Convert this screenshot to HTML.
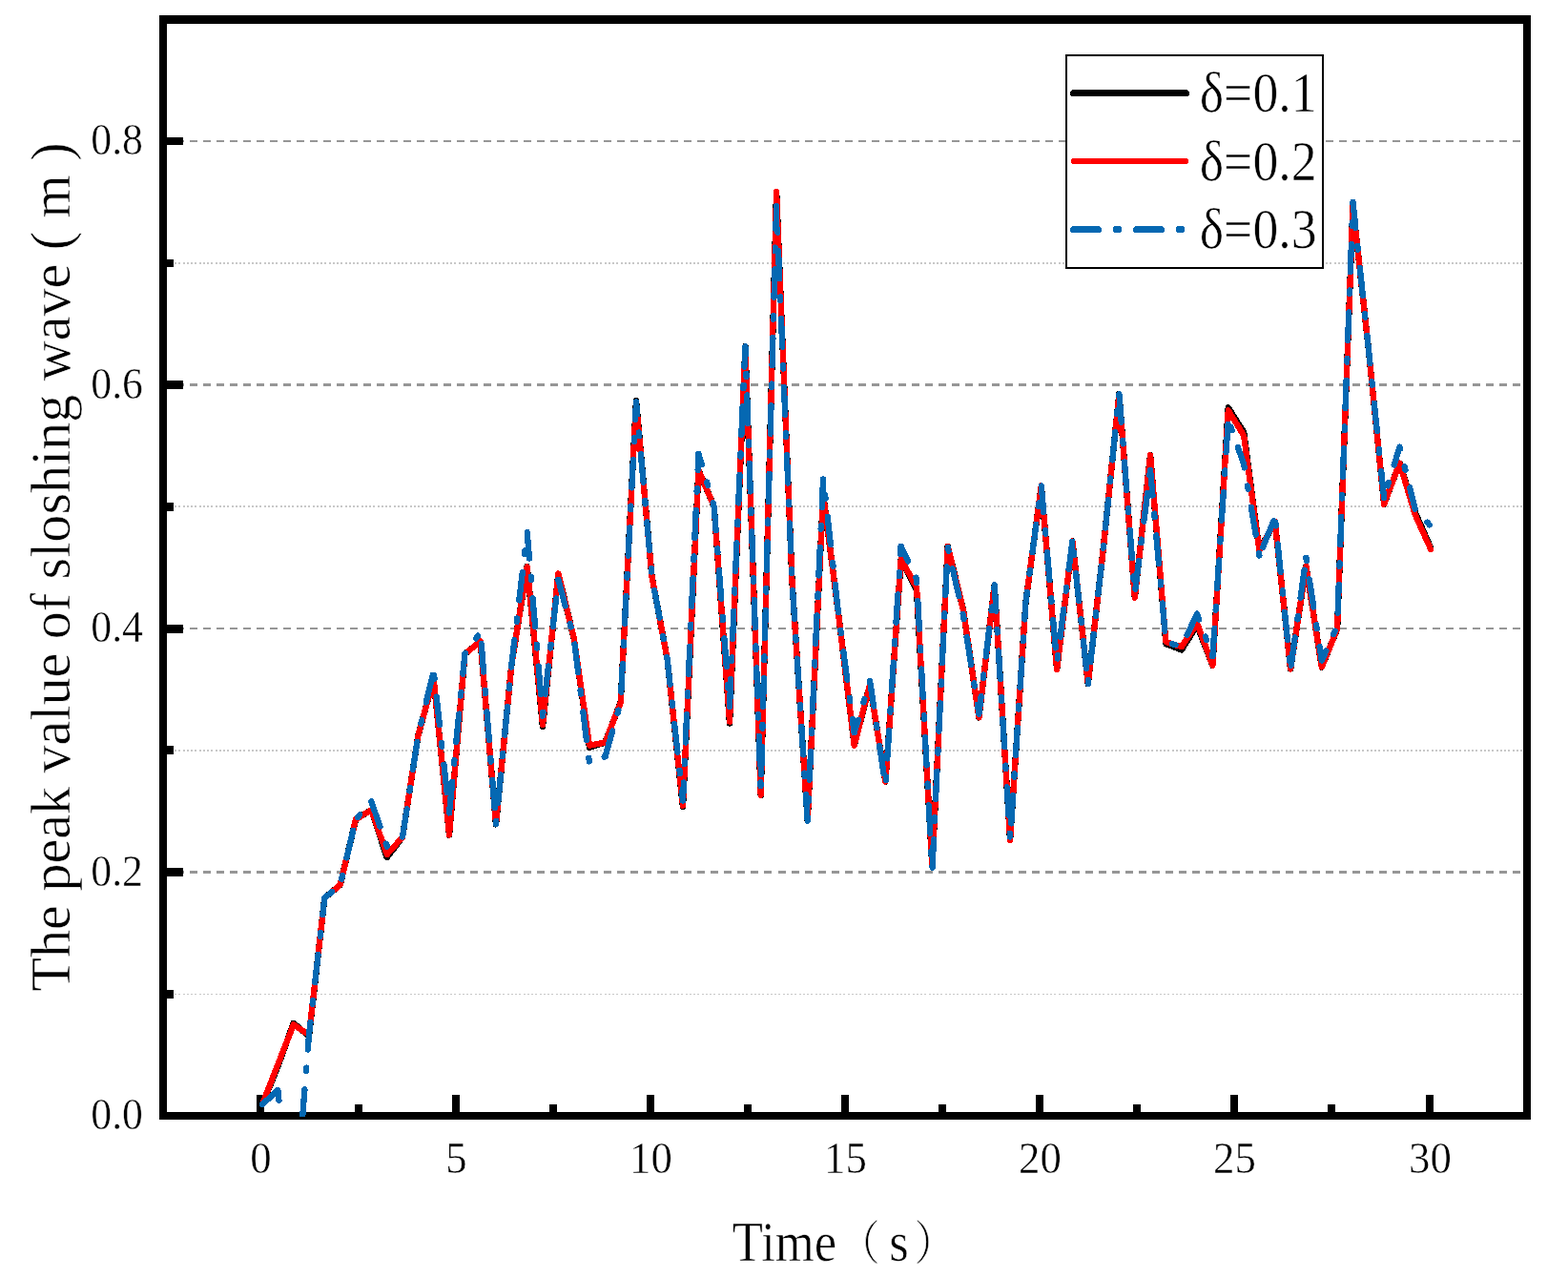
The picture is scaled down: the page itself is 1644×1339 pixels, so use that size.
<!DOCTYPE html>
<html lang="en"><head><meta charset="utf-8"><title>The peak value of sloshing wave</title>
<style>html,body{margin:0;padding:0;background:#fff}body{width:1644px;height:1339px;overflow:hidden}svg{display:block}text{font-family:"Liberation Serif","Noto Serif CJK SC",serif;fill:#000;stroke:#fff;stroke-width:0.6px}text.t{stroke-width:0.45px}</style></head><body>
<svg width="1644" height="1339" viewBox="0 0 1644 1339" role="img" aria-label="The peak value of sloshing wave versus time">
<rect width="1644" height="1339" fill="#fff"/>
<defs><clipPath id="plot"><rect x="171" y="20" width="1430" height="1151"/></clipPath></defs>
<g shape-rendering="crispEdges" fill="none">
<line x1="171" x2="1597" y1="148.0" y2="148.0" stroke="#969696" stroke-width="2" stroke-dasharray="8 6.011"/>
<line x1="171" x2="1597" y1="403.5" y2="403.5" stroke="#969696" stroke-width="3" stroke-dasharray="8 6.011"/>
<line x1="171" x2="1597" y1="659.0" y2="659.0" stroke="#969696" stroke-width="2" stroke-dasharray="8 6.011"/>
<line x1="171" x2="1597" y1="914.5" y2="914.5" stroke="#969696" stroke-width="3" stroke-dasharray="8 6.011"/>
<line x1="183" x2="1597" y1="276.0" y2="276.0" stroke="#c8c8c8" stroke-width="2" stroke-dasharray="2 2.25"/>
<line x1="183" x2="1597" y1="531.0" y2="531.0" stroke="#c8c8c8" stroke-width="2" stroke-dasharray="2 2.25"/>
<line x1="183" x2="1597" y1="787.0" y2="787.0" stroke="#c8c8c8" stroke-width="2" stroke-dasharray="2 2.25"/>
<line x1="183" x2="1597" y1="1042.5" y2="1042.5" stroke="#c8c8c8" stroke-width="1" stroke-dasharray="2 2.25"/>
</g>
<g shape-rendering="crispEdges" fill="#000">
<rect x="167" y="16" width="8" height="1158"/>
<rect x="1597" y="16" width="8" height="1158"/>
<rect x="167" y="16" width="1438" height="9"/>
<rect x="167" y="1166" width="1438" height="8"/>
<rect x="171" y="144" width="21" height="8"/>
<rect x="171" y="399" width="21" height="9"/>
<rect x="171" y="655" width="21" height="9"/>
<rect x="171" y="910" width="21" height="9"/>
<rect x="171" y="272" width="11" height="8"/>
<rect x="171" y="527" width="11" height="9"/>
<rect x="171" y="782" width="11" height="9"/>
<rect x="171" y="1038" width="11" height="9"/>
<rect x="269" y="1148" width="8" height="22"/>
<rect x="474" y="1148" width="8" height="22"/>
<rect x="678" y="1148" width="8" height="22"/>
<rect x="882" y="1148" width="8" height="22"/>
<rect x="1086" y="1148" width="8" height="22"/>
<rect x="1290" y="1148" width="8" height="22"/>
<rect x="1495" y="1148" width="8" height="22"/>
<rect x="372" y="1158" width="8" height="12"/>
<rect x="576" y="1158" width="8" height="12"/>
<rect x="780" y="1158" width="8" height="12"/>
<rect x="984" y="1158" width="8" height="12"/>
<rect x="1188" y="1158" width="8" height="12"/>
<rect x="1392" y="1158" width="8" height="12"/>
</g>
<g clip-path="url(#plot)" fill="none" stroke-linejoin="round" stroke-linecap="round" shape-rendering="crispEdges">
<polyline points="275.0,1158.0 291.3,1118.3 307.7,1072.9 324.0,1086.3 340.3,941.5 356.7,927.9 373.0,859.2 389.3,849.3 405.7,898.9 422.0,877.8 438.4,771.2 454.7,712.0 471.0,875.5 487.4,685.8 503.7,672.4 520.0,864.3 536.4,696.6 552.7,594.1 569.0,761.8 585.4,601.5 601.7,669.2 618.0,783.6 634.4,778.6 650.7,736.5 667.0,420.1 683.4,603.8 699.7,691.6 716.0,846.2 732.4,492.9 748.7,531.2 765.0,758.4 781.4,363.3 797.7,833.8 814.1,201.0 830.4,607.9 846.7,860.7 863.1,518.5 879.4,646.2 895.7,781.6 912.1,717.8 928.4,819.7 944.7,586.2 961.1,619.4 977.4,908.5 993.7,572.8 1010.1,640.1 1026.4,752.4 1042.7,613.5 1059.1,880.8 1075.4,631.8 1091.8,509.5 1108.1,702.2 1124.4,567.4 1140.8,717.1 1157.1,572.1 1173.4,413.2 1189.8,626.7 1206.1,477.2 1222.4,675.0 1238.8,681.4 1255.1,655.8 1271.4,697.7 1287.8,427.4 1304.1,453.3 1320.4,576.9 1336.8,547.1 1353.1,701.5 1369.4,593.8 1385.8,699.4 1402.1,659.6 1418.5,215.7 1434.8,365.2 1451.1,528.7 1467.5,485.6 1483.8,537.6 1500.1,574.4" stroke="#000" stroke-width="6.5"/>
<polyline points="275.0,1158.0 291.3,1116.2 307.7,1074.4 324.0,1085.0 340.3,941.5 356.7,927.9 373.0,859.2 389.3,849.3 405.7,896.0 422.0,877.8 438.4,771.2 454.7,712.0 471.0,875.5 487.4,685.8 503.7,672.4 520.0,864.3 536.4,696.6 552.7,594.1 569.0,759.9 585.4,601.5 601.7,669.2 618.0,781.6 634.4,778.6 650.7,736.5 667.0,421.6 683.4,603.8 699.7,691.6 716.0,844.6 732.4,492.9 748.7,531.2 765.0,756.7 781.4,363.3 797.7,833.8 814.1,201.0 830.4,607.9 846.7,860.7 863.1,518.5 879.4,646.2 895.7,781.6 912.1,717.8 928.4,819.7 944.7,586.2 961.1,616.2 977.4,908.5 993.7,572.8 1010.1,640.1 1026.4,752.4 1042.7,613.5 1059.1,880.8 1075.4,631.8 1091.8,509.5 1108.1,702.2 1124.4,567.4 1140.8,717.1 1157.1,572.1 1173.4,413.2 1189.8,626.7 1206.1,477.2 1222.4,673.1 1238.8,678.2 1255.1,653.6 1271.4,697.7 1287.8,430.3 1304.1,456.6 1320.4,576.9 1336.8,547.1 1353.1,701.5 1369.4,593.8 1385.8,699.4 1402.1,659.6 1418.5,215.7 1434.8,365.2 1451.1,528.7 1467.5,485.6 1483.8,539.9 1500.1,576.0" stroke="#ff0000" stroke-width="6.3"/>
<g stroke="#0568b2" stroke-width="6.3" stroke-dasharray="29.5 19.2 3.6 19.2">
<line x1="275.0" y1="1158.0" x2="291.3" y2="1143.2" stroke-dasharray="32.6 24 3.6 11.3" stroke-dashoffset="0.0"/>
<line x1="291.3" y1="1143.2" x2="307.7" y2="1290.3" stroke-dasharray="32.6 24 3.6 11.3" stroke-dashoffset="22.1"/>
<line x1="307.7" y1="1290.3" x2="324.0" y2="1085.0" stroke-dashoffset="24.1"/>
<line x1="324.0" y1="1085.0" x2="340.3" y2="941.5" stroke-dashoffset="16.4"/>
<line x1="340.3" y1="941.5" x2="356.7" y2="927.9" stroke-dashoffset="19.5"/>
<line x1="356.7" y1="927.9" x2="373.0" y2="859.2" stroke-dashoffset="42.3"/>
<line x1="373.0" y1="859.2" x2="389.3" y2="840.4" stroke-dashoffset="45.9"/>
<line x1="389.3" y1="840.4" x2="405.7" y2="887.5" stroke-dashoffset="1.8"/>
<line x1="405.7" y1="887.5" x2="422.0" y2="877.8" stroke-dashoffset="51.9"/>
<line x1="422.0" y1="877.8" x2="438.4" y2="771.2" stroke-dashoffset="71.2"/>
<line x1="438.4" y1="771.2" x2="454.7" y2="703.7" stroke-dashoffset="35.7"/>
<line x1="454.7" y1="703.7" x2="471.0" y2="852.4" stroke-dashoffset="44.4"/>
<line x1="471.0" y1="852.4" x2="487.4" y2="685.8" stroke-dashoffset="68.2"/>
<line x1="487.4" y1="685.8" x2="503.7" y2="663.1" stroke-dashoffset="28.7"/>
<line x1="503.7" y1="663.1" x2="520.0" y2="864.3" stroke-dashoffset="59.4"/>
<line x1="520.0" y1="864.3" x2="536.4" y2="696.6" stroke-dashoffset="48.9"/>
<line x1="536.4" y1="696.6" x2="552.7" y2="558.2" stroke-dashoffset="3.8"/>
<line x1="552.7" y1="558.2" x2="569.0" y2="750.6" stroke-dashoffset="2.1"/>
<line x1="569.0" y1="750.6" x2="585.4" y2="607.9" stroke-dashoffset="48.6"/>
<line x1="585.4" y1="607.9" x2="601.7" y2="669.2" stroke-dashoffset="1.0"/>
<line x1="601.7" y1="669.2" x2="618.0" y2="800.0" stroke-dashoffset="65.1"/>
<line x1="618.0" y1="800.0" x2="634.4" y2="793.5" stroke-dashoffset="54.7"/>
<line x1="634.4" y1="793.5" x2="650.7" y2="736.5" stroke-dashoffset="1.4"/>
<line x1="650.7" y1="736.5" x2="667.0" y2="421.6" stroke-dashoffset="60.6"/>
<line x1="667.0" y1="421.6" x2="683.4" y2="603.8" stroke-dashoffset="16.6"/>
<line x1="683.4" y1="603.8" x2="699.7" y2="691.6" stroke-dashoffset="56.2"/>
<line x1="699.7" y1="691.6" x2="716.0" y2="839.5" stroke-dashoffset="3.4"/>
<line x1="716.0" y1="839.5" x2="732.4" y2="475.8" stroke-dashoffset="10.5"/>
<line x1="732.4" y1="475.8" x2="748.7" y2="531.2" stroke-dashoffset="17.7"/>
<line x1="748.7" y1="531.2" x2="765.0" y2="741.3" stroke-dashoffset="4.3"/>
<line x1="765.0" y1="741.3" x2="781.4" y2="363.3" stroke-dashoffset="0.4"/>
<line x1="781.4" y1="363.3" x2="797.7" y2="827.6" stroke-dashoffset="20.3"/>
<line x1="797.7" y1="827.6" x2="814.1" y2="216.0" stroke-dashoffset="56.1"/>
<line x1="814.1" y1="216.0" x2="830.4" y2="607.9" stroke-dashoffset="24.7"/>
<line x1="830.4" y1="607.9" x2="846.7" y2="860.7" stroke-dashoffset="60.1"/>
<line x1="846.7" y1="860.7" x2="863.1" y2="501.2" stroke-dashoffset="28.4"/>
<line x1="863.1" y1="501.2" x2="879.4" y2="646.2" stroke-dashoffset="30.7"/>
<line x1="879.4" y1="646.2" x2="895.7" y2="768.2" stroke-dashoffset="34.0"/>
<line x1="895.7" y1="768.2" x2="912.1" y2="713.9" stroke-dashoffset="15.5"/>
<line x1="912.1" y1="713.9" x2="928.4" y2="824.2" stroke-dashoffset="2.4"/>
<line x1="928.4" y1="824.2" x2="944.7" y2="572.8" stroke-dashoffset="42.6"/>
<line x1="944.7" y1="572.8" x2="961.1" y2="607.3" stroke-dashoffset="12.3"/>
<line x1="961.1" y1="607.3" x2="977.4" y2="912.6" stroke-dashoffset="48.6"/>
<line x1="977.4" y1="912.6" x2="993.7" y2="574.0" stroke-dashoffset="68.5"/>
<line x1="993.7" y1="574.0" x2="1010.1" y2="645.8" stroke-dashoffset="48.6"/>
<line x1="1010.1" y1="645.8" x2="1026.4" y2="748.8" stroke-dashoffset="49.0"/>
<line x1="1026.4" y1="748.8" x2="1042.7" y2="613.5" stroke-dashoffset="10.7"/>
<line x1="1042.7" y1="613.5" x2="1059.1" y2="880.8" stroke-dashoffset="2.3"/>
<line x1="1059.1" y1="880.8" x2="1075.4" y2="631.8" stroke-dashoffset="54.1"/>
<line x1="1075.4" y1="631.8" x2="1091.8" y2="509.5" stroke-dashoffset="18.3"/>
<line x1="1091.8" y1="509.5" x2="1108.1" y2="694.8" stroke-dashoffset="1.9"/>
<line x1="1108.1" y1="694.8" x2="1124.4" y2="567.4" stroke-dashoffset="44.4"/>
<line x1="1124.4" y1="567.4" x2="1140.8" y2="717.1" stroke-dashoffset="37.8"/>
<line x1="1140.8" y1="717.1" x2="1157.1" y2="572.1" stroke-dashoffset="48.4"/>
<line x1="1157.1" y1="572.1" x2="1173.4" y2="413.2" stroke-dashoffset="52.8"/>
<line x1="1173.4" y1="413.2" x2="1189.8" y2="622.0" stroke-dashoffset="71.4"/>
<line x1="1189.8" y1="622.0" x2="1206.1" y2="492.9" stroke-dashoffset="67.0"/>
<line x1="1206.1" y1="492.9" x2="1222.4" y2="673.1" stroke-dashoffset="2.8"/>
<line x1="1222.4" y1="673.1" x2="1238.8" y2="678.2" stroke-dashoffset="41.8"/>
<line x1="1238.8" y1="678.2" x2="1255.1" y2="643.7" stroke-dashoffset="57.8"/>
<line x1="1255.1" y1="643.7" x2="1271.4" y2="688.4" stroke-dashoffset="23.4"/>
<line x1="1271.4" y1="688.4" x2="1287.8" y2="440.5" stroke-dashoffset="71.4"/>
<line x1="1287.8" y1="440.5" x2="1304.1" y2="486.5" stroke-dashoffset="41.0"/>
<line x1="1304.1" y1="486.5" x2="1320.4" y2="582.6" stroke-dashoffset="25.6"/>
<line x1="1320.4" y1="582.6" x2="1336.8" y2="542.7" stroke-dashoffset="61.8"/>
<line x1="1336.8" y1="542.7" x2="1353.1" y2="701.5" stroke-dashoffset="43.5"/>
<line x1="1353.1" y1="701.5" x2="1369.4" y2="584.9" stroke-dashoffset="67.6"/>
<line x1="1369.4" y1="584.9" x2="1385.8" y2="692.6" stroke-dashoffset="48.8"/>
<line x1="1385.8" y1="692.6" x2="1402.1" y2="656.4" stroke-dashoffset="18.4"/>
<line x1="1402.1" y1="656.4" x2="1418.5" y2="211.9" stroke-dashoffset="57.7"/>
<line x1="1418.5" y1="211.9" x2="1434.8" y2="365.2" stroke-dashoffset="2.3"/>
<line x1="1434.8" y1="365.2" x2="1451.1" y2="521.8" stroke-dashoffset="13.6"/>
<line x1="1451.1" y1="521.8" x2="1467.5" y2="468.7" stroke-dashoffset="35.7"/>
<line x1="1467.5" y1="468.7" x2="1483.8" y2="533.7" stroke-dashoffset="27.5"/>
<line x1="1483.8" y1="533.7" x2="1500.1" y2="551.8" stroke-dashoffset="29.9"/>
</g>
</g>
<g shape-rendering="crispEdges">
<rect x="1118" y="58" width="269" height="223" fill="#fff" stroke="#000" stroke-width="2"/>
<g fill="none" stroke-linecap="round">
<line x1="1125.5" x2="1243.5" y1="97.5" y2="97.5" stroke="#000" stroke-width="7"/>
<line x1="1125.5" x2="1243.5" y1="169" y2="169" stroke="#ff0000" stroke-width="6"/>
<line x1="1125.5" x2="1243.5" y1="240.5" y2="240.5" stroke="#0568b2" stroke-width="7" stroke-dasharray="26 18.6 2.5 18.9"/>
</g></g>
<text transform="translate(1257.80 117.10) scale(0.9000 1)" font-size="59.70" text-anchor="start">δ=0.1</text>
<text transform="translate(1257.80 188.60) scale(0.9000 1)" font-size="59.70" text-anchor="start">δ=0.2</text>
<text transform="translate(1257.80 260.10) scale(0.9000 1)" font-size="59.70" text-anchor="start">δ=0.3</text>
<text class="t" transform="translate(150.00 1184.30) scale(0.9370 1)" font-size="46.70" text-anchor="end">0.0</text>
<text class="t" transform="translate(150.00 928.80) scale(0.9370 1)" font-size="46.70" text-anchor="end">0.2</text>
<text class="t" transform="translate(150.00 673.30) scale(0.9370 1)" font-size="46.70" text-anchor="end">0.4</text>
<text class="t" transform="translate(150.00 417.80) scale(0.9370 1)" font-size="46.70" text-anchor="end">0.6</text>
<text class="t" transform="translate(150.00 162.30) scale(0.9370 1)" font-size="46.70" text-anchor="end">0.8</text>
<text class="t" transform="translate(273.50 1229.60) scale(0.9600 1)" font-size="46.70" text-anchor="middle">0</text>
<text class="t" transform="translate(478.50 1229.60) scale(0.9600 1)" font-size="46.70" text-anchor="middle">5</text>
<text class="t" transform="translate(682.50 1229.60) scale(0.9600 1)" font-size="46.70" text-anchor="middle">10</text>
<text class="t" transform="translate(886.50 1229.60) scale(0.9600 1)" font-size="46.70" text-anchor="middle">15</text>
<text class="t" transform="translate(1090.50 1229.60) scale(0.9600 1)" font-size="46.70" text-anchor="middle">20</text>
<text class="t" transform="translate(1294.50 1229.60) scale(0.9600 1)" font-size="46.70" text-anchor="middle">25</text>
<text class="t" transform="translate(1499.50 1229.60) scale(0.9600 1)" font-size="46.70" text-anchor="middle">30</text>
<text transform="translate(767.85 1322.20) scale(0.8830 1)" font-size="59.70"><tspan x="0" y="0">Time</tspan><tspan x="125.76" y="-1.2" font-size="49.5">（</tspan><tspan x="186.24" y="0">s</tspan><tspan x="215.91" y="-1.2" font-size="49.5">）</tspan></text>
<text transform="translate(73 1039.4) rotate(-90) scale(0.981 1)" font-size="59.20">The peak value of sloshing wave ( m )</text>
</svg></body></html>
